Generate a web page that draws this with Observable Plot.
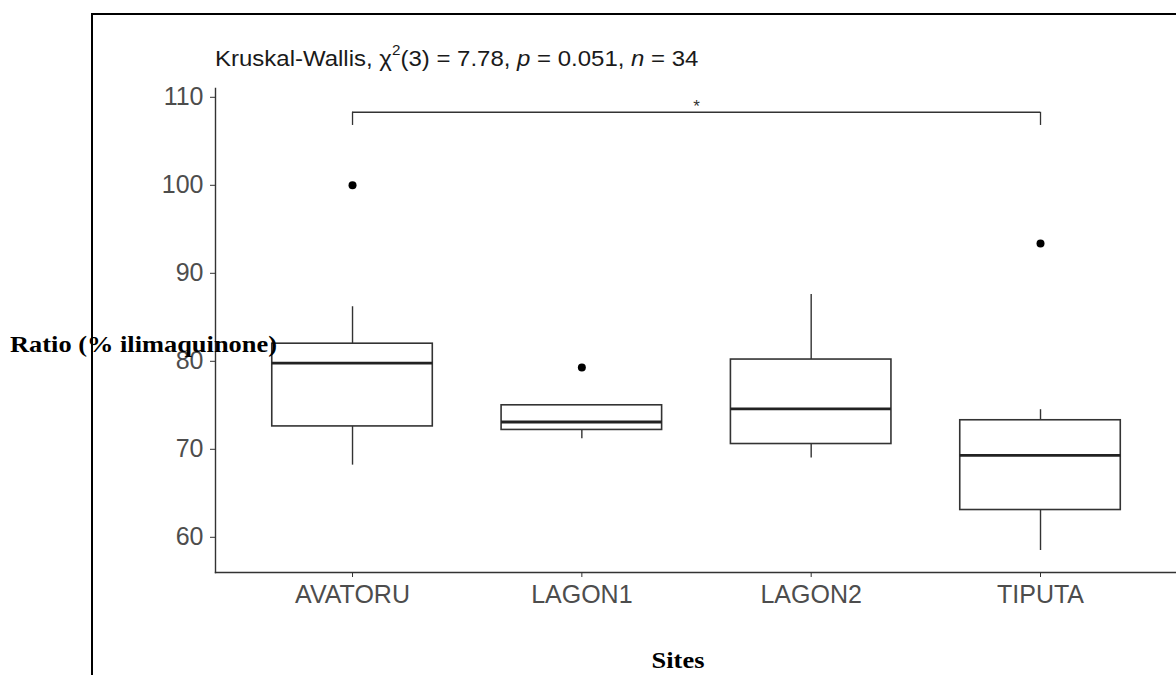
<!DOCTYPE html>
<html><head><meta charset="utf-8">
<script src="https://cdn.jsdelivr.net/npm/d3@7"></script>
<script src="https://cdn.jsdelivr.net/npm/@observablehq/plot@0.6"></script>
<style>
body{margin:0;background:#fff;}
#wrap{position:relative;width:1176px;height:675px;overflow:hidden;background:#fff;}
#chart{position:absolute;left:0;top:0;}
#frame{position:absolute;left:91px;top:13px;width:1200px;height:800px;border-left:2px solid #000;border-top:2px solid #000;pointer-events:none;}
#title{position:absolute;left:215px;top:48px;font:22px "Liberation Sans",Arial,sans-serif;line-height:22px;color:#1a1a1a;white-space:nowrap;transform:scaleX(1.09);transform-origin:left center;}
#title sup{font-size:14px;vertical-align:baseline;position:relative;top:-11px;}
.lab{position:absolute;font:bold 24px "Liberation Serif","Times New Roman",serif;line-height:24px;color:#000;white-space:nowrap;}
#ylab{left:10px;top:332px;transform:scaleX(1.1);transform-origin:left center;}
#xlab{left:678px;top:648px;transform:translateX(-50%) scaleX(1.1);}
</style></head><body>
<div id="wrap">
  <div id="chart"></div>
  <div id="frame"></div>
  <div id="title">Kruskal-Wallis, χ<sup>2</sup>(3) = 7.78, <i>p</i> = 0.051, <i>n</i> = 34</div>
  <div id="ylab" class="lab">Ratio (% ilimaquinone)</div>
  <div id="xlab" class="lab">Sites</div>
</div>
<script>
const sites = ["AVATORU", "LAGON1", "LAGON2", "TIPUTA"];
const lowerWhisker = [68.2, 71.2, 69.0, 58.5];
const q1 = [72.6, 72.2, 70.6, 63.1];
const median = [79.8, 73.1, 74.6, 69.3];
const q3 = [82.0, 75.0, 80.2, 73.3];
const upperWhisker = [86.2, 75.0, 87.6, 74.5];
const outlierSite = ["AVATORU", "LAGON1", "TIPUTA"];
const outlierValue = [100, 79.3, 93.4];
const bracketSites = ["AVATORU", "TIPUTA"];
const bracketTop = 108.3;
const bracketTickEnd = 106.8;
const bracketLabel = "*";
const yTicks = [60, 70, 80, 90, 100, 110];

const boxes = sites.map((s, k) => ({
  site: s, i: k + 1,
  lo: lowerWhisker[k], q1: q1[k], med: median[k], q3: q3[k], hi: upperWhisker[k]
}));
const outliers = outlierSite.map((s, k) => ({i: sites.indexOf(s) + 1, v: outlierValue[k]}));
const bA = sites.indexOf(bracketSites[0]) + 1, bB = sites.indexOf(bracketSites[1]) + 1;
const bracket = [{a: bA, b: bB, top: bracketTop, end: bracketTickEnd, mid: (bA + bB) / 2, label: bracketLabel}];
const ends = [{x: bA, top: bracketTop, end: bracketTickEnd}, {x: bB, top: bracketTop, end: bracketTickEnd}];
const half = 0.35;
const lineCol = "#333";

const chart = Plot.plot({
  width: 1176, height: 675,
  marginLeft: 215, marginRight: 0, marginTop: 88, marginBottom: 103,
  style: {fontFamily: "'Liberation Sans', Arial, sans-serif", background: "transparent"},
  x: {domain: [0.4025, 4.593]},
  y: {domain: [56.0, 111.0]},
  marks: [
    Plot.frame({anchor: "left", stroke: lineCol, strokeWidth: 1.4}),
    Plot.frame({anchor: "bottom", stroke: lineCol, strokeWidth: 1.4}),
    Plot.ruleX(boxes, {x: "i", y1: "q3", y2: "hi", stroke: lineCol, strokeWidth: 1.4}),
    Plot.ruleX(boxes, {x: "i", y1: "lo", y2: "q1", stroke: lineCol, strokeWidth: 1.4}),
    Plot.rect(boxes, {x1: d => d.i - half, x2: d => d.i + half, y1: "q1", y2: "q3", fill: "white", stroke: lineCol, strokeWidth: 1.6}),
    Plot.ruleY(boxes, {x1: d => d.i - half, x2: d => d.i + half, y: "med", stroke: "#222", strokeWidth: 2.8}),
    Plot.dot(outliers, {x: "i", y: "v", r: 4, fill: "#000", stroke: null}),
    Plot.ruleY(bracket, {x1: "a", x2: "b", y: "top", stroke: lineCol, strokeWidth: 1.3}),
    Plot.ruleX(ends, {x: "x", y1: "end", y2: "top", stroke: lineCol, strokeWidth: 1.3}),
    Plot.text(bracket, {x: "mid", y: "top", text: "label", dy: -6, fontSize: 17, fill: "#333"}),
    Plot.axisY({ticks: yTicks, tickSize: 5, tickPadding: 7, fontSize: 25, stroke: lineCol, fill: "#4d4d4d", label: null}),
    Plot.axisX({ticks: [1, 2, 3, 4], tickFormat: i => sites[i - 1], tickSize: 5, tickPadding: 8, fontSize: 25, stroke: lineCol, fill: "#4d4d4d", label: null})
  ]
});
document.getElementById("chart").appendChild(chart);
</script>
</body></html>
